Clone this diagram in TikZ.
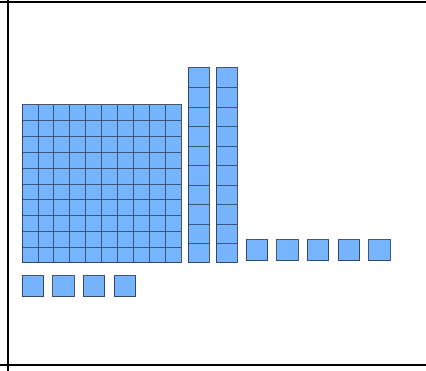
\documentclass[tikz,border=0pt]{standalone}
\definecolor{cubeblue}{RGB}{119,180,254}
\definecolor{edgecol}{RGB}{40,55,80}
\tikzset{
  unitbox/.style={fill=cubeblue, draw=edgecol, draw opacity=0.85, line width=1pt},
  gridln/.style={draw=edgecol, draw opacity=0.75, line width=0.8pt},
  frameln/.style={draw=black, line width=2pt}
}
\begin{document}
\begin{tikzpicture}[x=1pt,y=-1pt]
\useasboundingbox (0,0) rectangle (426,371);
% frame
\draw[frameln] (0,2) -- (426,2);
\draw[frameln] (0,365) -- (426,365);
\draw[frameln] (7.5,0) -- (7.5,371);
% hundred square
\fill[cubeblue] (22,105) rectangle (181,263);
\foreach \i in {1,...,9}{
  \draw[gridln] ({22+15.9*\i},105) -- ({22+15.9*\i},263);
  \draw[gridln] (22,{105+15.8*\i}) -- (181,{105+15.8*\i});
}
\draw[unitbox,fill=none] (22,105) rectangle (181,263);
% tens rods
\foreach \r in {0,1}{
  \fill[cubeblue] ({188+28*\r},68) rectangle ({209+28*\r},263);
  \foreach \i in {1,...,9}{
    \draw[gridln] ({188+28*\r},{68+19.5*\i}) -- ({209+28*\r},{68+19.5*\i});
  }
  \draw[unitbox,fill=none] ({188+28*\r},68) rectangle ({209+28*\r},263);
}
% ones in row
\foreach \x in {246,276.7,307.4,338.1,368.8}{
  \draw[unitbox] (\x,240) rectangle ({\x+21.5},261);
}
% ones below
\foreach \x in {22,52.7,83.4,114.1}{
  \draw[unitbox] (\x,276) rectangle ({\x+21.5},297);
}
\end{tikzpicture}
\end{document}
